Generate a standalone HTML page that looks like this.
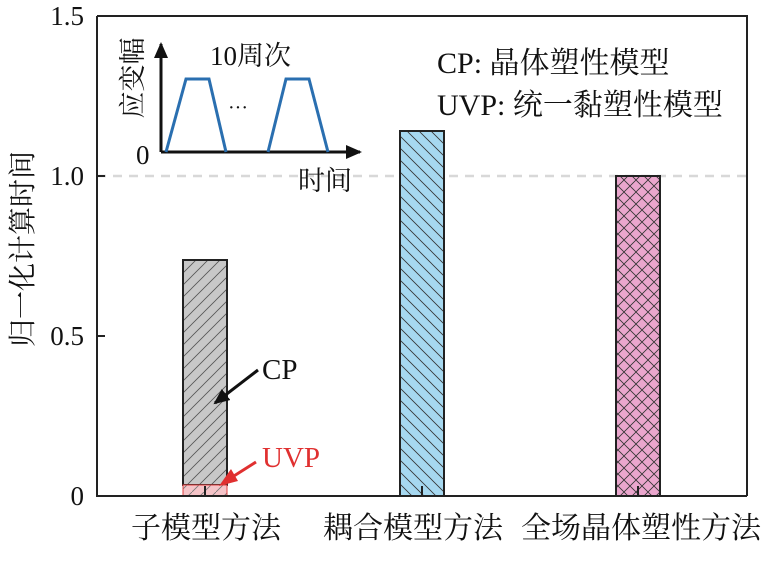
<!DOCTYPE html>
<html><head><meta charset="utf-8"><style>
body{margin:0;background:#fff}
svg{display:block}
text{font-family:"Liberation Serif","Noto Serif CJK SC",serif;fill:#111}
</style></head><body>
<svg width="770" height="571" viewBox="0 0 770 571" xmlns="http://www.w3.org/2000/svg">
<defs>
<pattern id="hg" width="12" height="12" patternUnits="userSpaceOnUse"><rect width="12" height="12" fill="#c8c8c8"/><path d="M-3,3 L3,-3 M0,12 L12,0 M9,15 L15,9" stroke="#555" stroke-width="0.8"/></pattern>
<pattern id="hb" width="12" height="12" patternUnits="userSpaceOnUse"><rect width="12" height="12" fill="#a6d8f0"/><path d="M-3,9 L3,15 M0,0 L12,12 M9,-3 L15,3" stroke="#333" stroke-width="0.8"/></pattern>
<pattern id="hp" width="12" height="12" patternUnits="userSpaceOnUse"><rect width="12" height="12" fill="#eaa6cd"/><path d="M0,0 L12,12 M0,12 L12,0" stroke="#333" stroke-width="0.8"/></pattern>
<pattern id="hr" width="12" height="12" patternUnits="userSpaceOnUse"><rect width="12" height="12" fill="#f5c4c8"/><path d="M0,12 L12,0" stroke="#777" stroke-width="0.8"/></pattern>
<marker id="ak" markerWidth="16" markerHeight="14" refX="14" refY="7" orient="auto" markerUnits="userSpaceOnUse"><path d="M0,0 L16,7 L0,14z" fill="#111"/></marker>
</defs>
<line x1="97" y1="176" x2="747" y2="176" stroke="#d8d8d8" stroke-width="2.5" stroke-dasharray="9,7"/>
<rect x="183" y="260" width="44" height="225" fill="url(#hg)" stroke="#222" stroke-width="2"/>
<rect x="183" y="485" width="44" height="11" fill="url(#hr)" stroke="#e04040" stroke-width="1"/>
<rect x="400" y="131" width="44" height="365" fill="url(#hb)" stroke="#222" stroke-width="2"/>
<rect x="616" y="176" width="44" height="320" fill="url(#hp)" stroke="#222" stroke-width="2"/>
<path d="M97,16 H747 V496 M97,16 V496 H747" fill="none" stroke="#222" stroke-width="2"/>
<path d="M97,176 h8 M97,336 h8 M205,496 v-10 M422,496 v-10 M638,496 v-10" stroke="#222" stroke-width="2"/>
<g font-size="27" text-anchor="end"><text x="84" y="25">1.5</text><text x="84" y="185">1.0</text><text x="84" y="345">0.5</text><text x="84" y="505">0</text></g>
<text transform="translate(32,249) rotate(-90)" font-size="28" text-anchor="middle">归一化计算时间</text>
<g font-size="30" text-anchor="middle"><text x="206" y="538">子模型方法</text><text x="413" y="538">耦合模型方法</text><text x="641" y="538">全场晶体塑性方法</text></g>
<g font-size="30"><text x="437" y="73">CP: 晶体塑性模型</text><text x="437" y="115">UVP: 统一黏塑性模型</text></g>
<!-- inset -->
<line x1="161" y1="152" x2="161" y2="44" stroke="#111" stroke-width="3" marker-end="url(#ak)"/>
<line x1="161" y1="152" x2="360" y2="152" stroke="#111" stroke-width="3" marker-end="url(#ak)"/>
<path d="M166,152 L186,79 L209,79 L226,152 M268,152 L286,79 L309,79 L328,152" fill="none" stroke="#2a6fb0" stroke-width="3"/>
<text x="228" y="114" font-size="20">···</text>
<text x="136" y="164" font-size="27">0</text>
<text x="210" y="65" font-size="27">10周次</text>
<text x="298" y="190" font-size="27">时间</text>
<text transform="translate(142,78) rotate(-90)" font-size="27" text-anchor="middle">应变幅</text>
<line x1="258" y1="370" x2="215" y2="403" stroke="#111" stroke-width="3" marker-end="url(#ak)"/>
<text x="262" y="379" font-size="29">CP</text>
<line x1="256" y1="462" x2="226" y2="481" stroke="#e03030" stroke-width="3"/>
<path d="M219,486 L231,469 L238,481z" fill="#e03030"/>
<text x="262" y="467" font-size="29" style="fill:#e03030">UVP</text>
</svg>
</body></html>
